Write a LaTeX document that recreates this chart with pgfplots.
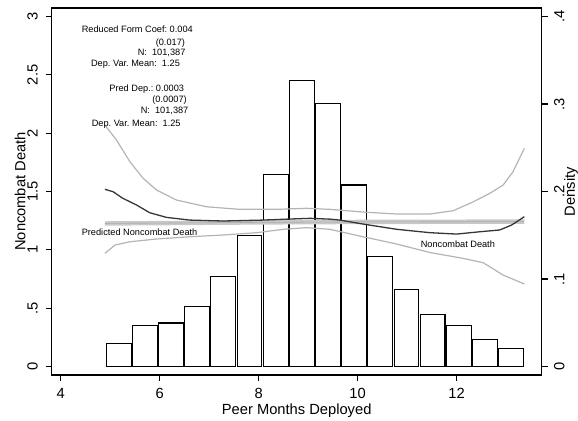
\documentclass[border=0pt]{standalone}
\usepackage{fontspec}
\setmainfont{Liberation Sans}
\usepackage{pgfplots}
\pgfplotsset{compat=1.18}
\frenchspacing
\definecolor{darkln}{HTML}{363636}
\definecolor{ciln}{HTML}{B4B4B4}
\definecolor{bandln}{HTML}{C8C8C8}
\newcommand{\ann}{\fontsize{9.2bp}{10bp}\selectfont}
\begin{document}
\begin{tikzpicture}
\pgfplotsset{
  common/.style={
    scale only axis, width=490bp, height=367bp,
    xmin=3.82, xmax=13.72,
    tick align=outside, major tick length=6bp,
    /pgf/number format/assume math mode=true,
    tick label style={font=\fontsize{14.7bp}{16bp}\selectfont},
    label style={font=\fontsize{14.7bp}{16bp}\selectfont},
    axis line style={line width=1.1bp},
    major tick style={line width=1.1bp, black},
    clip=false,
  }
}
% histogram on the density axis
\begin{axis}[common,
  ymin=-0.00971, ymax=0.40971,
  hide x axis,
  axis y line*=right,
  ytick={0,0.1,0.2,0.3,0.4}, yticklabels={0,.1,.2,.3,.4},
  yticklabel style={rotate=90, anchor=north, yshift=-3bp},
  ylabel={Density},
  ylabel style={at={(rel axis cs:1,0.5)}, anchor=north, inner sep=0pt, yshift=-22.3bp},
]
\addplot[ybar, bar width=0.50, fill=white, draw=black, line width=1.05bp] coordinates {
(5.173,0.0265) (5.702,0.0474) (6.230,0.0497) (6.759,0.0691)
(7.288,0.1034) (7.816,0.1499) (8.345,0.2197) (8.873,0.3266)
(9.402,0.3008) (9.931,0.2074) (10.459,0.1255) (10.988,0.0882)
(11.516,0.0597) (12.045,0.0471) (12.574,0.0314) (13.102,0.0208)
};
\end{axis}
% curves on the Noncombat Death axis
\begin{axis}[common,
  ymin=-0.0728, ymax=3.0728,
  xtick={4,6,8,10,12},
  xtick pos=lower, ytick pos=left,
  ytick={0,0.5,1,1.5,2,2.5,3}, yticklabels={0,.5,1,1.5,2,2.5,3},
  yticklabel style={rotate=90, anchor=south, yshift=4.5bp},
  xticklabel style={yshift=-4bp},
  xlabel={Peer Months Deployed},
  xlabel style={at={(rel axis cs:0.5,0)}, anchor=base, inner sep=0pt, yshift=-39.3bp},
  ylabel={Noncombat Death},
  ylabel style={at={(rel axis cs:0,0.5)}, anchor=base, inner sep=0pt, yshift=26.2bp},
]
\coordinate (SW) at (rel axis cs:0,0);
% predicted band
\addplot[bandln, line width=4.4bp, line cap=butt] coordinates {
(4.895,1.226) (6,1.229) (7,1.232) (8,1.235) (9,1.237) (10,1.239) (11,1.240) (12,1.241) (13.37,1.242)
};
\addplot[gray!65, line width=0.6bp] coordinates {
(4.895,1.226) (6,1.229) (7,1.232) (8,1.235) (9,1.237) (10,1.239) (11,1.240) (12,1.241) (13.37,1.242)
};
% upper CI
\addplot[ciln, line width=1.2bp] coordinates {
(4.895,2.069) (5.13,1.941) (5.40,1.755) (5.67,1.612) (5.94,1.512) (6.34,1.427) (6.95,1.369)
(7.62,1.347) (8.36,1.347) (8.97,1.356) (9.44,1.347) (10.11,1.324) (10.79,1.307) (11.46,1.307)
(11.93,1.335) (12.34,1.412) (12.67,1.484) (12.94,1.555) (13.14,1.669) (13.37,1.87)
};
% lower CI
\addplot[ciln, line width=1.2bp] coordinates {
(4.895,0.970) (5.10,1.041) (5.40,1.069) (5.94,1.093) (6.61,1.112) (7.28,1.127) (7.96,1.147)
(8.50,1.176) (8.97,1.19) (9.44,1.176) (10.11,1.112) (10.79,1.05) (11.46,0.977) (12.13,0.927)
(12.54,0.889) (12.94,0.784) (13.37,0.707)
};
% noncombat death
\addplot[darkln, line width=1.3bp] coordinates {
(4.895,1.519) (5.06,1.498) (5.26,1.441) (5.535,1.384) (5.80,1.318) (6.14,1.278) (6.61,1.255)
(7.28,1.247) (8.09,1.255) (8.63,1.264) (9.04,1.27) (9.44,1.263) (9.64,1.255) (10.11,1.221)
(10.79,1.176) (11.46,1.147) (12.0,1.135) (12.47,1.155) (12.87,1.17) (13.11,1.212) (13.37,1.284)
};
\begin{scope}[every node/.style={inner sep=0pt, font=\ann}]
\node[anchor=base west] at (axis cs:4.424,2.861) {Reduced Form Coef: 0.004};
\node[anchor=base west] at (axis cs:5.919,2.750) {(0.017)};
\node[anchor=base west] at (axis cs:5.556,2.664) {N:\ \ 101,387};
\node[anchor=base west] at (axis cs:4.612,2.570) {Dep. Var. Mean:\ \ 1.25};
\node[anchor=base west] at (axis cs:4.982,2.356) {Pred Dep.: 0.0003};
\node[anchor=base west] at (axis cs:5.851,2.264) {(0.0007)};
\node[anchor=base west] at (axis cs:5.616,2.170) {N:\ \ 101,387};
\node[anchor=base west] at (axis cs:4.626,2.061) {Dep. Var. Mean:\ \ 1.25};
\node[anchor=base west] at (axis cs:4.424,1.122) {Predicted Noncombat Death};
\node[anchor=base west] at (axis cs:11.273,1.021) {Noncombat Death};
\end{scope}
\end{axis}
\pgfresetboundingbox
\path (SW) ++(-51.7bp,-46bp) rectangle ++(578bp,421bp);
\end{tikzpicture}
\end{document}
